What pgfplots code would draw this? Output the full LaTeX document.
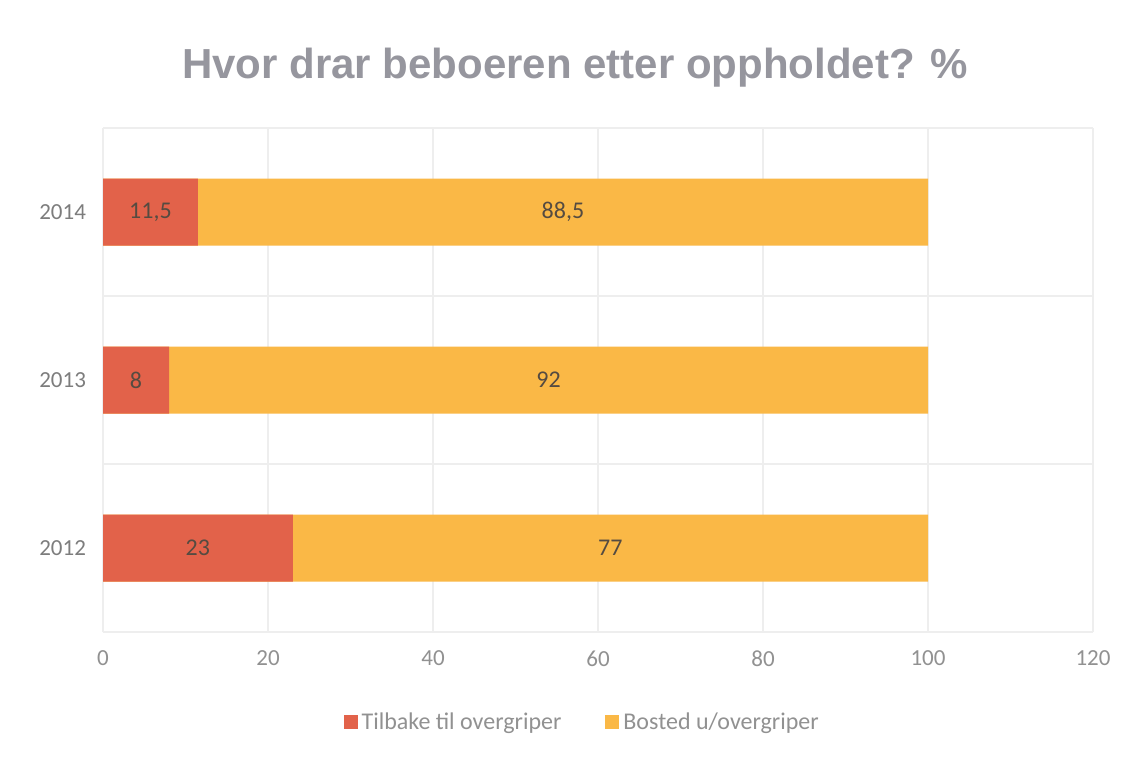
\documentclass[border=0pt]{standalone}
\usepackage{fontspec}
\setmainfont{Carlito}
\newfontfamily\titlefont{Liberation Sans}
\usepackage{pgfplots}
\usepackage{pgfplotstable}
\pgfplotsset{compat=1.18}
\definecolor{cred}{RGB}{226,98,74}
\definecolor{cyel}{RGB}{250,184,70}
\definecolor{ctick}{RGB}{145,145,145}
\definecolor{cytick}{RGB}{125,125,125}
\definecolor{clab}{RGB}{85,75,65}
\definecolor{ctitle}{RGB}{150,150,158}
\definecolor{cgrid}{RGB}{238,238,238}
\pgfplotstableread{
y red yellow
0 23 77
1 8 92
2 11.5 88.5
}\data
\begin{document}
\begin{tikzpicture}
\useasboundingbox (0,0) rectangle (567.5pt,381pt);
\fill[white] (0,0) rectangle (567.5pt,381pt);
\node[font=\titlefont\bfseries\fontsize{21}{25}\selectfont, text=ctitle] at (287.5pt,347pt) {Hvor drar beboeren etter oppholdet? \%};
\begin{axis}[
  at={(51.5pt,65pt)}, anchor=south west,
  scale only axis, width=495pt, height=252pt,
  xmin=0, xmax=120, ymin=-0.5, ymax=2.5,
  xtick={0,20,...,120}, ytick={0,1,2}, yticklabels={2012,2013,2014},
  minor ytick={-0.5,0.5,1.5,2.5},
  axis line style={draw=none}, major tick length=0pt, minor tick length=0pt,
  xmajorgrids, yminorgrids,
  major grid style={cgrid, line width=0.6pt},
  minor grid style={cgrid, line width=0.6pt},
  xticklabel style={font=\fontsize{11.5}{13}\selectfont, text=ctick, yshift=-6pt},
  yticklabel style={font=\fontsize{11.5}{13}\selectfont, text=cytick, xshift=-5pt},
  /pgf/number format/assume math mode=true,
  /pgf/number format/use comma,
  bar width=33.5pt,
  legend columns=2,
  legend style={at={(0.485,-0.179)}, anchor=center, draw=none, fill=none,
    font=\fontsize{12}{14}\selectfont, text=ctick,
    /tikz/every even column/.append style={column sep=20pt}},
  legend image code/.code={\fill[#1] (0pt,-3.5pt) rectangle (7pt,3.5pt);},
]
\addplot[xbar, fill=cyel, draw=none, forget plot] table[x expr=\thisrow{red}+\thisrow{yellow}, y=y] {\data};
\addplot[xbar, fill=cred, draw=none] table[x=red, y=y] {\data};
\addlegendentry{Tilbake til overgriper}
\addlegendimage{fill=cyel, draw=none}
\addlegendentry{Bosted u/overgriper}
\addplot[only marks, mark=none, forget plot, point meta=explicit,
  nodes near coords, every node near coord/.append style={anchor=center, text=clab, font=\fontsize{12}{14}\selectfont}]
  table[x expr=\thisrow{red}/2, y=y, meta=red] {\data};
\addplot[only marks, mark=none, forget plot, point meta=explicit,
  nodes near coords, every node near coord/.append style={anchor=center, text=clab, font=\fontsize{12}{14}\selectfont}]
  table[x expr=\thisrow{red}+\thisrow{yellow}/2, y=y, meta=yellow] {\data};
\end{axis}
\end{tikzpicture}
\end{document}
